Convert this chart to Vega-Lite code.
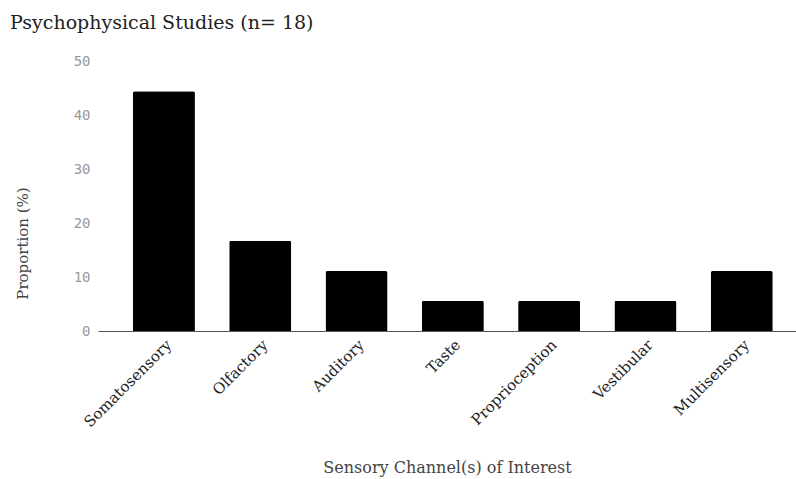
{
  "$schema": "https://vega.github.io/schema/vega-lite/v6.json",
  "autosize": {"type": "none"},
  "width": 698,
  "height": 270,
  "padding": {"left": 98, "top": 61, "right": 0, "bottom": 148},
  "background": "white",
  "title": {
    "text": "Psychophysical Studies (n= 18)",
    "anchor": "start",
    "frame": "group",
    "dx": -88,
    "offset": 21,
    "font": "DejaVu Serif",
    "fontSize": 19,
    "fontWeight": "normal",
    "color": "#222222"
  },
  "data": {
    "values": [
      {"channel": "Somatosensory", "proportion": 44.4},
      {"channel": "Olfactory", "proportion": 16.7},
      {"channel": "Auditory", "proportion": 11.1},
      {"channel": "Taste", "proportion": 5.6},
      {"channel": "Proprioception", "proportion": 5.6},
      {"channel": "Vestibular", "proportion": 5.6},
      {"channel": "Multisensory", "proportion": 11.1}
    ]
  },
  "mark": {"type": "bar", "color": "#000000", "cornerRadiusTopLeft": 2, "cornerRadiusTopRight": 2},
  "encoding": {
    "x": {
      "field": "channel",
      "type": "nominal",
      "sort": null,
      "scale": {"paddingInner": 0.356, "paddingOuter": 0.302, "align": 0.6},
      "axis": {
        "title": "Sensory Channel(s) of Interest",
        "labelAngle": -45,
        "labelFont": "DejaVu Serif",
        "labelFontSize": 15,
        "labelColor": "#222222",
        "labelPadding": 6,
        "ticks": false,
        "domainColor": "#555555",
        "domainWidth": 1,
        "titleFont": "DejaVu Serif",
        "titleFontSize": 16,
        "titleFontWeight": "normal",
        "titleColor": "#444444",
        "titlePadding": 30
      }
    },
    "y": {
      "field": "proportion",
      "type": "quantitative",
      "scale": {"domain": [0, 50]},
      "axis": {
        "title": "Proportion (%)",
        "values": [0, 10, 20, 30, 40, 50],
        "grid": false,
        "domain": false,
        "ticks": false,
        "labelFont": "DejaVu Sans Mono",
        "labelFontSize": 14,
        "labelColor": "#999999",
        "labelPadding": 8,
        "titleFont": "DejaVu Serif",
        "titleFontSize": 15,
        "titleFontWeight": "normal",
        "titleColor": "#444444",
        "titlePadding": 43,
        "titleY": 182
      }
    }
  },
  "config": {"view": {"stroke": null}}
}
